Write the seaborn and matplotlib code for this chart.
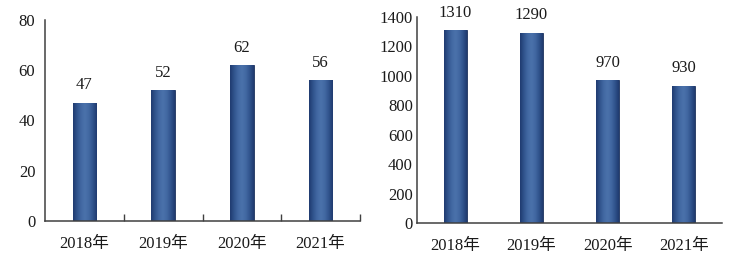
import numpy as np
import pandas as pd
import matplotlib
matplotlib.use("Agg")
import matplotlib.pyplot as plt
import seaborn as sns
from matplotlib.colors import LinearSegmentedColormap

years = ["2018年", "2019年", "2020年", "2021年"]
left_values = [47, 52, 62, 56]
right_values = [1310, 1290, 970, 930]
left_ticks = [0, 20, 40, 60, 80]
right_ticks = [0, 200, 400, 600, 800, 1000, 1200, 1400]

sns.set_theme(style="white")
plt.rcParams['font.family'] = ['Liberation Serif', 'Noto Sans CJK SC']
plt.rcParams['axes.unicode_minus'] = False

fig = plt.figure(figsize=(7.29, 2.65), dpi=100)
ax1 = fig.add_axes([45/729, 44/265, 315/729, 201/265])
ax2 = fig.add_axes([417/729, 42/265, 305/729, 206/265])

grad_cmap = LinearSegmentedColormap.from_list(
    "bargrad", ["#1f3a6f", "#30538c", "#4268a2", "#4b72ab", "#4268a2", "#30538c", "#1f3a6f"])

def draw(ax, values, ticks, ytick_len, xminor):
    df = pd.DataFrame({"year": years, "value": values})
    sns.barplot(data=df, x="year", y="value", ax=ax, color="#3f639c",
                width=0.3, saturation=1, edgecolor="#1b2f5a", linewidth=0.6)
    ymax = ticks[-1]
    grad = np.linspace(0, 1, 200).reshape(1, -1)
    for p in ax.patches:
        x0 = p.get_x(); w = p.get_width(); h = p.get_height()
        im = ax.imshow(grad, cmap=grad_cmap, aspect="auto",
                       extent=[x0, x0 + w, 0, h], zorder=p.get_zorder() + 0.1,
                       interpolation="bicubic")
        im.set_clip_path(p)
    for c in ax.containers:
        ax.bar_label(c, padding=7, fontsize=12, color="#1a1a1a")
    ax.set_xlim(-0.5, 3.5)
    ax.set_ylim(0, ymax)
    ax.set_yticks(ticks)
    ax.set_xlabel(""); ax.set_ylabel("")
    for s in ["top", "right"]:
        ax.spines[s].set_visible(False)
    for s in ["left", "bottom"]:
        ax.spines[s].set_color("#404040")
        ax.spines[s].set_linewidth(1.1)
    ax.tick_params(axis="y", direction="out", length=ytick_len, width=1,
                   color="#404040", labelsize=12, labelcolor="#1a1a1a", pad=3)
    ax.tick_params(axis="x", which="major", length=0, labelsize=12,
                   labelcolor="#1a1a1a", pad=11)
    if xminor:
        ax.set_xticks([0.5, 1.5, 2.5, 3.5], minor=True)
        ax.tick_params(axis="x", which="minor", direction="in", length=5,
                       width=1, color="#404040", bottom=True)

draw(ax1, left_values, left_ticks, 4, True)
draw(ax2, right_values, right_ticks, 0, False)

fig.savefig("out.png", dpi=100)
